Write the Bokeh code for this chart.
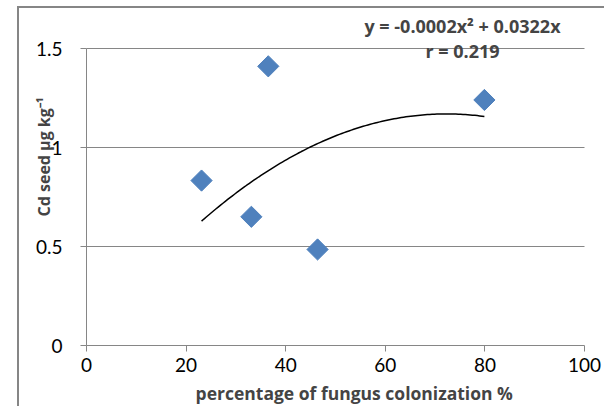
import numpy as np
from bokeh.plotting import figure
from bokeh.models import Range1d, Label, FixedTicker, ColumnDataSource
from bokeh.embed import file_html
from bokeh.resources import INLINE

# Data
colonization = [23.1, 33.1, 36.5, 46.4, 79.9]
cd_seed = [0.833, 0.65, 1.41, 0.485, 1.24]
x_ticks = [0, 20, 40, 60, 80, 100]
y_ticks = [0, 0.5, 1, 1.5]
y_tick_labels = {0: "0", 0.5: "0.5", 1: "1", 1.5: "1.5"}
equation_text = "y = -0.0002x\u00b2 + 0.0322x"
r_text = "r = 0.219"
x_title = "percentage of fungus colonization  %"
y_title = "Cd seed \u03bcg kg\u207b\u00b9"

# Polynomial (order 2, through origin) trendline fitted to the points
xa = np.array(colonization)
ya = np.array(cd_seed)
A = np.vstack([xa ** 2, xa]).T
coef, *_ = np.linalg.lstsq(A, ya, rcond=None)
tx = np.linspace(xa.min(), xa.max(), 120)
ty = coef[0] * tx ** 2 + coef[1] * tx

GRAY = "#868686"
FONT = "Lato"
BFONT = "Open Sans"

# Page geometry: canvas spans page x 19..606, y 8..408 (after margin + 2px border);
# data x 0..100 -> page 86..584, data y 0..1.5 -> page 345..48
CX0, CX1, CY0, CY1 = 19, 606, 8, 408
PX0, PX1, PY0, PY1 = 86, 584, 345, 48
sx = (PX1 - PX0) / (x_ticks[-1] - x_ticks[0])
sy = (PY0 - PY1) / (y_ticks[-1] - y_ticks[0])
x_range = Range1d((CX0 - PX0) / sx, (CX1 - PX0) / sx)
y_range = Range1d((PY0 - CY1) / sy, (PY0 - CY0) / sy)

p = figure(width=CX1 - CX0, height=CY1 - CY0, output_backend="svg", toolbar_location=None,
           x_range=x_range, y_range=y_range,
           min_border_left=0, min_border_right=0, min_border_top=0, min_border_bottom=0,
           outline_line_color=None, background_fill_color="white", border_fill_color="white",
           margin=(6, 0, 0, 17),
           styles={"border-left": "2px solid #868686", "border-top": "2px solid #868686"})

p.grid.visible = False

p.xaxis.ticker = FixedTicker(ticks=x_ticks)
p.yaxis.ticker = FixedTicker(ticks=y_ticks)
p.xaxis.bounds = (x_ticks[0], x_ticks[-1])
p.yaxis.bounds = (y_ticks[0], y_ticks[-1])
p.xaxis.fixed_location = y_ticks[0]
p.yaxis.fixed_location = x_ticks[0]
p.yaxis.major_label_overrides = y_tick_labels
for ax in (p.xaxis, p.yaxis):
    ax.axis_line_color = GRAY
    ax.axis_line_width = 1
    ax.major_tick_line_color = GRAY
    ax.major_tick_in = 0
    ax.major_tick_out = 6
    ax.minor_tick_line_color = None
    ax.major_label_text_font = FONT
    ax.major_label_text_font_size = "19px"
    ax.major_label_text_color = "black"
p.xaxis.major_label_standoff = 6
p.yaxis.major_label_standoff = 18

# horizontal gridlines spanning the x axis extent
gy = y_ticks[1:]
p.segment(x0=[x_ticks[0]] * len(gy), x1=[x_ticks[-1]] * len(gy), y0=gy, y1=gy,
          line_color=GRAY, line_width=1)

p.line(tx, ty, line_color="black", line_width=1.5)
src = ColumnDataSource(dict(x=colonization, y=cd_seed))
p.scatter("x", "y", source=src, marker="square", size=15, angle=np.pi / 4,
          fill_color="#4F81BD", line_color="#4F81BD")


def lab(px, py, text, size, angle=0.0, align="center"):
    # screen units measured from the frame's left / bottom edge (frame = whole canvas)
    p.add_layout(Label(x=px - CX0, y=CY1 - py, x_units="screen", y_units="screen", text=text,
                       angle=angle, text_font=BFONT, text_font_style="bold",
                       text_font_size=size, text_align=align, text_baseline="middle"))


lab(462, 25, equation_text, "18px")
lab(462, 50, r_text, "18px")
lab(356, 392, x_title, "17.5px")
lab(43, 216, y_title, "16px", angle=np.pi / 2, align="left")

open("out.html", "w").write(file_html(p, INLINE))
